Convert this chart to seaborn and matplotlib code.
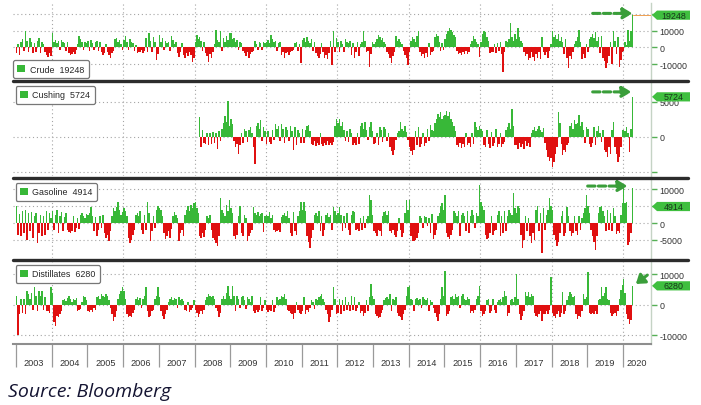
import numpy as np
import pandas as pd
import matplotlib
matplotlib.use('Agg')
import matplotlib.pyplot as plt
import seaborn as sns
from matplotlib.patches import Patch, Polygon
from matplotlib.lines import Line2D

# weekly-ish inventory changes, million barrels, two bars per month from Jan 2003 to mid Apr 2020
crude = [
    -3.5, 2.0, -4.4, 3.5, 5.0, -2.0, 9.6, 4.0, -3.0, 5.5, 3.0, -3.4, 2.5, -2.8, 4.0, 5.6, -3.4, 3.0, 2.0, -2.5, -4.6, -5.4, -3.5, -4.8,  # 2003
    8.6, 3.0, 4.5, 2.5, 3.6, -1.5, 4.2, 3.0, 2.8, -2.0, 3.5, -3.2, -4.4, -3.8, -2.5, -4.0, -1.5, 2.0, 6.6, 5.0, 3.5, -1.8, 3.0, 2.5,  # 2004
    3.8, -2.0, 4.6, 2.5, -1.8, 3.2, 4.0, -2.2, 3.0, -3.0, -4.2, -3.4, 2.0, -2.5, -4.5, -6.4, -3.6, -2.0, 5.0, 5.6, 3.4, 4.2, 2.2, -1.5,  # 2005
    4.5, 6.6, 3.0, -1.8, 5.0, 3.2, 2.5, -2.0, 1.5, -3.4, -2.6, -3.0, -1.8, -3.4, -2.2, 5.5, -2.8, 8.6, 4.0, -3.0, 6.0, 3.5, -7.4, -4.0,  # 2006
    7.6, 3.0, 5.5, -1.5, 4.0, 2.5, 3.2, -2.0, 6.6, 4.5, 2.0, 3.5, -3.5, -5.4, -2.8, 2.5, -4.6, -6.0, -3.5, -5.0, -2.5, -4.2, -8.4, -6.5,  # 2007
    3.0, 7.6, 5.0, 6.5, 4.0, -2.0, 3.0, -3.5, -5.0, -8.4, -4.0, -6.0, -2.5, 2.0, 10.6, 4.5, 3.0, 9.6, -2.0, 5.5, 3.5, 7.0, 4.2, 8.5,  # 2008
    8.6, 5.0, 5.6, 3.0, 4.5, -1.5, 3.5, 2.5, -2.0, -3.5, -5.0, -2.8, -6.4, -4.0, -3.0, -2.0, 3.6, 2.0, -1.5, 3.0, 2.5, -1.8, 3.2, 2.8,  # 2009
    3.0, 4.5, 2.5, 7.6, 5.0, 3.5, 4.0, -2.0, 2.5, 3.0, -4.4, -3.0, -6.4, -3.5, -2.5, -4.4, -3.0, -2.0, -1.5, 2.5, 3.0, -2.0, 2.0, -9.4,  # 2010
    4.5, 5.6, 3.0, 6.0, 4.0, 2.5, 5.0, -2.0, 3.0, -3.5, -5.0, -6.4, -4.0, 2.5, -3.0, -6.0, -4.5, -7.0, -3.5, 4.0, -10.4, 9.6, -3.0, 5.5,  # 2011
    3.0, -2.5, 4.0, 2.0, -3.0, 5.0, 3.5, 2.5, 3.6, -4.4, 2.5, -6.4, -3.0, 3.0, -5.0, 2.0, 3.0, 9.6, 4.0, -3.0, -2.0, -11.4, -4.0, 3.0,  # 2012
    2.0, 3.0, 5.0, 7.6, 6.0, 4.5, 5.5, 3.0, 2.0, -2.5, -4.0, -6.0, -9.4, -5.0, -3.0, 6.6, 4.0, 5.0, 3.0, 2.0, -2.0, -4.5, -6.0, -10.4,  # 2013
    -3.0, 4.0, 6.0, 5.0, 3.5, 7.0, 9.6, -3.0, -5.0, -4.0, -6.5, -3.5, -5.5, 2.5, -4.5, -3.0, -2.0, 6.0, 8.0, 7.0, 3.0, -2.0, 2.5, -1.5,  # 2014
    5.0, 8.0, 10.0, 11.6, 10.5, 9.0, 7.5, 6.0, -2.0, -4.0, -3.5, -4.4, -3.0, -3.8, -2.0, -4.0, -3.0, 2.0, 4.0, 7.0, 5.0, 3.0, 2.0, -5.4,  # 2015
    3.0, 8.0, 10.0, 9.0, 6.0, 4.0, -3.4, -2.5, -3.0, 2.0, -3.4, 2.5, -2.0, 3.0, -4.0, -14.4, -3.0, 4.0, 3.0, 5.0, 14.6, 6.0, 4.0, 8.0,  # 2016
    5.0, 11.6, 6.0, 4.0, 2.5, -3.0, -5.0, -4.0, -7.4, -6.0, -3.0, -5.5, -8.0, -4.0, -6.5, -3.0, -7.0, 6.0, -2.5, -4.5, -3.0, -6.0, -2.0, 2.0,  # 2017
    10.0, 6.0, 7.5, 5.0, 8.0, 4.0, 6.5, 3.0, -4.0, 5.0, -6.0, -12.4, -5.0, -7.0, -3.0, 2.0, 4.0, 6.0, 10.6, 3.0, -7.0, -4.0, -6.5, 2.0,  # 2018
    -3.0, 5.0, 6.0, 8.0, 5.5, 9.0, 4.0, 6.0, -3.5, 7.0, -6.0, -8.0, -12.4, -9.0, -5.0, 3.0, -10.0, 9.6, 4.0, -4.0, 6.0, -11.4, -7.4, -3.0,  # 2019
    -2.0, 3.0, 1.5, 10.6, 4.0, 10.0, 19.248,  # 2020
]

# Cushing series begins in early 2008
cushing = [
    2.9, -1.4, 1.0, -0.8, -1.0, 0.6, -1.2, 0.5, -1.0, 0.7, -0.8, 0.6, -1.7, 0.8, -0.6, 1.2, 2.0, 3.0, 2.2, 5.1, 1.5,  # 2008
    2.5, 1.8, -0.6, -1.5, -1.0, -2.4, -1.2, 0.6, -0.8, 1.2, 0.8, -0.7, 1.0, 1.4, 0.5, -1.5, -3.9, 1.5, 2.0, 1.2, 2.4, -0.6, 1.4, 0.8,  # 2009
    -1.0, 0.8, -0.7, -1.0, 1.0, -0.5, 1.9, 1.2, 1.5, -0.6, 1.9, 1.2, -0.8, 1.4, 1.0, -0.6, 1.5, 0.8, -1.9, 1.4, -1.2, 1.0, 0.6, -0.9,  # 2010
    1.2, -0.8, 1.0, 1.5, 1.7, 0.8, -1.0, -1.2, -0.6, -1.3, -0.9, -1.2, 0.5, -1.0, -1.3, -0.8, -1.2, -0.6, -1.1, -0.9, -1.2, -0.7, 1.5, 2.6,  # 2011
    2.0, 2.6, 1.5, 2.2, 1.0, -0.6, 0.8, -0.7, 1.2, 0.5, -1.2, -0.8, -1.2, 0.6, -1.0, 1.5, 2.0, 1.2, 2.1, 1.0, -0.5, 1.4, 2.1, 0.8,  # 2012
    -1.0, -0.8, 0.6, -1.2, 1.4, 1.0, -0.7, 1.4, 1.2, -0.6, 0.5, -1.5, -2.0, -2.6, -1.8, -0.5, 0.6, 0.8, 2.1, 1.2, 0.9, 1.5, 0.7, -0.5,  # 2013
    -1.5, -2.0, -2.6, -1.8, 0.8, -1.2, 1.4, -1.5, -1.0, 0.6, -1.3, -0.8, 1.2, -0.6, 1.7, 1.0, 0.8, 2.0, 2.5, 3.3, 2.8, 3.6, 2.5, 3.0,  # 2014
    3.2, 3.7, 3.0, 3.5, 2.6, 2.2, 1.5, 0.8, -1.2, -1.5, -0.9, -1.6, -1.0, -1.4, 0.6, -1.2, -0.8, -1.5, 0.5, -1.0, 2.1, 1.4, 1.0, 1.6,  # 2015
    1.2, 0.8, -1.2, -1.5, 1.0, -1.0, -1.6, 0.7, -1.3, -0.8, 1.2, -1.5, -1.0, 0.6, -1.4, -1.0, -0.7, 1.0, 1.4, 2.0, 1.2, 4.0, 1.5, -1.2,  # 2016
    -1.2, -1.7, -0.8, -1.5, -1.0, -1.7, -0.6, -1.3, -0.9, -1.4, 0.6, 1.0, 1.4, 0.8, 1.2, 1.6, 1.0, 0.7, 1.3, -0.8, -1.8, -2.8, -3.5, -3.0,  # 2017
    -4.3, -3.6, -2.5, -1.5, 3.6, 2.0, -1.0, -2.6, -1.8, -2.2, -1.2, -0.8, 1.5, 2.0, 1.2, 2.4, 1.8, 2.0, 3.1, 1.5, 2.2, 1.0, -0.8, 1.4,  # 2018
    1.2, -1.0, -1.4, -0.8, 1.4, -1.2, 0.9, 1.5, 0.6, -0.7, 1.0, -1.8, -2.2, -2.8, -1.5, -2.5, 1.0, 2.1, -1.4, -2.5, -3.6, -2.8, -1.5, 1.0,  # 2019
    1.0, 0.8, 1.4, 0.6, -2.1, 1.2, 5.724,  # 2020
]

gasoline = [
    5.2, -3.5, 2.8, -4.0, 3.5, -3.0, 4.0, -5.0, 3.0, -2.5, 3.4, -4.5, 2.0, 3.0, -5.9, -3.0, 2.5, -4.0, 2.0, -3.5, 3.5, -2.0, 3.0, 1.5,  # 2003
    3.5, -2.0, 2.5, 3.8, -3.0, 2.0, 3.2, -2.5, 1.8, 3.0, -2.0, -2.8, -3.0, -2.5, 2.0, -2.6, -1.5, 1.5, -1.8, 2.5, 3.0, 2.0, 1.5, 2.8,  # 2004
    2.5, 3.0, 4.7, 2.0, -2.5, 1.8, -3.8, -2.0, 2.0, -1.5, 2.5, -3.0, -4.5, -3.5, -5.4, -2.5, 2.0, 4.5, 3.5, 4.8, 6.3, 4.0, 2.5, 3.2,  # 2005
    4.5, 3.5, 2.0, -4.5, -6.0, -5.0, -3.5, -2.0, 2.5, 3.0, 2.0, 3.5, -2.0, -3.4, 2.5, -2.0, 6.3, 3.0, -5.4, -2.5, 2.0, -1.5, 4.0, 5.0,  # 2006
    4.5, 3.8, 2.0, -3.0, -4.8, -4.0, -2.5, -4.5, -1.8, 2.0, 3.2, 2.5, 1.5, -5.4, -3.0, -2.0, -4.0, 2.5, 4.0, 5.0, 3.5, 5.5, 4.5, 6.0,  # 2007
    6.3, 4.5, 3.0, -4.0, -4.5, -3.0, -4.3, -2.0, 2.0, 1.5, 2.5, -2.0, -4.5, -5.0, -6.0, -6.9, -4.0, 7.3, 4.0, 3.0, 2.0, 5.5, 3.5, 6.8,  # 2008
    4.5, 3.0, -4.0, -4.8, -3.5, 2.0, 5.2, -3.0, -4.0, 2.5, 1.5, -5.4, -4.0, -3.0, -2.0, 4.7, 3.0, 2.5, 3.2, 2.0, 2.8, 3.0, -2.8, 2.0,  # 2009
    2.5, 2.0, 3.2, 1.5, 2.5, -2.0, -2.8, -2.5, -2.0, -2.8, 1.8, 2.5, 3.0, 2.0, 3.5, 1.5, -3.0, -3.8, 3.2, -2.5, -3.5, 2.0, 3.5, 6.3,  # 2010
    4.0, 6.3, 3.5, -4.0, -5.5, -7.4, -4.5, -2.0, 2.5, 3.0, 2.0, 3.5, -2.5, 2.0, -3.8, -2.0, 2.5, 3.0, 1.8, 2.5, -2.0, 4.7, 3.5, 2.5,  # 2011
    3.0, 4.7, 2.5, -2.3, 2.0, -1.5, 3.0, -2.0, -3.5, 2.5, 3.7, 3.2, -2.0, -1.8, -2.3, 1.5, -2.2, 2.0, -1.5, 1.2, 2.0, 8.3, 6.8, 2.5,  # 2012
    -2.5, -3.0, -3.8, -2.0, -2.5, -3.8, 2.0, 3.2, 3.7, 2.5, 3.5, -2.5, -3.0, -2.0, -3.5, -4.3, -2.5, 1.5, -2.0, -4.3, -3.0, 3.0, 6.8, 4.0,  # 2013
    6.8, -4.0, -5.4, -5.4, -5.0, -4.5, -3.0, 2.2, 1.5, -1.5, 2.0, 1.8, -1.0, 1.5, -3.0, 2.7, -4.8, -3.5, -2.0, 2.0, 3.0, 5.0, 6.0, 4.0,  # 2014
    8.3, -3.0, -4.3, -4.8, -3.5, -2.0, 3.5, 3.0, 2.0, 3.7, -3.8, 2.5, 3.0, 2.0, -2.5, 3.5, -3.0, 2.0, 4.0, 2.5, -1.5, 3.0, 2.0, 11.3,  # 2015
    6.3, 5.0, 4.0, -3.5, -4.8, -4.5, -3.0, 2.0, -3.5, -2.5, -2.0, 2.5, 3.5, -3.8, 2.0, -3.0, 3.5, -2.5, 2.0, 4.0, 3.0, 2.5, 8.8, 4.5,  # 2016
    3.0, 5.2, 4.5, -3.5, -7.4, -5.0, 2.0, -2.5, 1.5, -4.0, -5.9, -3.0, -5.0, 4.0, 5.2, -2.5, 3.0, -8.9, 4.5, -2.0, 2.5, 4.0, 7.3, 5.0,  # 2017
    4.0, -3.5, -5.0, -6.9, -5.5, -3.0, 2.0, 3.7, -4.0, -3.0, 4.7, 2.0, -2.5, -3.8, -3.0, 2.0, -2.5, -3.5, 2.2, -2.0, 1.5, 3.0, 4.5, 8.3,  # 2018
    5.0, 3.0, -2.0, -4.0, -5.5, -7.9, -4.0, 3.0, 4.7, 5.2, 3.5, 2.0, -2.3, 4.0, -2.0, 3.0, -2.3, 4.5, 2.0, -3.3, -2.5, -3.0, 2.5, 6.0,  # 2019
    10.3, 6.0, 6.3, -6.4, -5.5, -3.0, 10.5,  # 2020
]

distillates = [
    3.0, -10.0, -3.0, 1.8, -2.5, 2.0, -3.0, 4.5, 3.5, 2.0, 4.0, -1.5, 5.8, 3.0, -2.0, 4.5, 3.0, 4.5, -1.5, 2.5, -2.0, -1.9, -2.5, 5.8,  # 2003
    4.0, -5.5, -6.8, -3.5, -4.0, -3.0, -2.0, 1.5, 2.0, 1.2, 2.2, 3.0, 1.8, 1.0, 2.0, 1.5, 2.2, -1.9, -1.8, -1.2, 1.0, 3.0, 2.5, 1.5,  # 2004
    -2.0, -2.2, -1.5, -2.2, -1.0, -1.8, 2.5, 3.0, 2.0, 3.5, 2.8, 2.5, 3.6, 3.0, 1.5, -1.0, -3.0, -5.1, -4.0, -2.0, 2.0, 3.5, 4.5, 5.8,  # 2005
    4.5, 2.0, -3.0, -4.0, -3.5, -4.0, -2.5, -1.5, 2.0, 2.5, 1.5, 2.2, -1.0, 2.0, 3.0, 5.8, -2.0, -4.0, -3.5, -2.0, -1.5, 2.0, 3.0, 5.8,  # 2006
    2.5, -2.0, -3.5, -4.6, -3.0, -1.5, 1.0, 2.0, 2.5, 1.5, 2.2, 1.8, -1.0, 2.5, 1.5, 2.0, 1.2, -1.8, -2.0, 1.0, -2.2, -1.5, -1.0, 1.5,  # 2007
    -1.5, -2.5, -4.0, -3.0, -2.0, -3.0, -1.5, 1.5, 2.5, 3.5, 3.0, 2.5, 3.0, 2.0, -1.0, -2.0, -4.0, -2.5, 2.0, 3.0, 2.0, 4.0, 6.3, 3.0,  # 2008
    2.0, 6.3, 3.0, -1.9, 3.0, 2.0, -1.0, 2.5, 3.0, 1.5, -1.2, 2.5, 2.0, 1.0, 3.0, -2.0, -2.5, -1.5, -2.2, -1.8, 2.5, -2.0, -1.0, 1.5,  # 2009
    -1.5, -2.2, -1.8, -2.0, 1.5, -2.2, -1.0, 2.5, 1.5, 2.0, 3.0, 2.5, 3.6, 2.0, -1.5, -2.0, -2.5, -3.0, -4.6, -2.5, 1.0, -1.5, -2.5, -3.0,  # 2010
    -2.0, 2.5, -2.8, -1.5, -2.2, -1.0, 1.5, 1.0, -1.2, 2.0, 1.5, 2.5, 3.0, 3.6, 2.0, 1.0, -1.5, -3.0, -5.7, -4.0, -1.5, 5.8, 2.0, -3.0,  # 2011
    -2.5, 2.0, -3.0, 1.5, -2.0, 2.5, -1.5, 1.0, -2.0, 3.0, -1.5, 2.5, -2.0, -1.0, 1.0, -2.5, -2.0, -3.7, -2.5, 1.5, -2.0, 2.5, 6.9, 3.0,  # 2012
    2.0, -3.0, -3.5, -4.2, -4.0, -2.5, -1.5, 1.5, 2.2, 2.5, 1.8, 3.6, -2.0, 2.0, 1.5, 2.5, -2.5, -3.5, -4.0, -4.8, -3.0, -1.5, 3.0, 5.8,  # 2013
    6.3, 2.0, 1.5, -2.0, 2.0, 2.2, 1.5, 1.8, -1.0, 2.5, 2.0, 1.5, 2.2, -2.0, 1.5, 1.0, -1.0, -2.5, -4.0, -5.3, -3.0, 2.0, 5.8, 3.0,  # 2014
    11.3, -3.7, -3.0, -2.0, 2.5, 3.0, 2.0, 3.5, 2.5, 3.0, -1.0, 2.8, 3.5, 2.0, 1.5, 2.5, 2.0, -2.5, -2.0, -2.5, -1.5, 2.0, 3.0, 6.3,  # 2015
    -2.0, -3.7, -3.0, -2.0, 1.5, 2.0, -2.5, -2.0, 2.0, -1.5, -2.5, 1.0, 1.5, 2.0, 1.0, 2.5, 4.7, 3.0, -3.7, -2.5, 1.5, 2.0, 1.0, 2.5,  # 2016
    10.2, 2.0, -3.0, -4.8, -3.5, -2.0, 4.1, 3.0, 4.1, 2.5, 3.5, 3.0, -2.5, -3.5, -4.0, -3.0, -2.0, -5.3, -3.0, -3.0, -2.0, -3.0, -1.5, 9.1,  # 2017
    -2.5, -3.5, -4.2, -3.0, -2.0, -4.0, -2.5, 4.1, -3.0, -2.0, 1.5, 3.0, 4.1, 3.5, 2.5, 3.0, -3.0, -4.5, -3.5, -4.0, -2.0, 3.6, 2.0, 2.5,  # 2018
    10.8, -2.5, -3.1, -2.5, -3.0, -2.0, -3.1, 1.5, 2.0, 5.8, 3.0, 4.0, 5.8, 2.0, 1.5, -2.5, -3.7, -3.0, -2.5, -3.7, -2.0, 2.0, 5.0, 6.5,  # 2019
    8.5, 4.0, -3.0, -4.5, -6.4, -5.0, 6.28,  # 2020
]

names = ['Crude', 'Cushing', 'Gasoline', 'Distillates']
last_values = [19248, 5724, 4914, 6280]
year_labels = [str(y) for y in range(2003, 2021)]

GREEN = '#38b838'
RED = '#e01010'
TAG = '#3fbf3f'
ARROW = '#3a9e3a'
GRID = '#a5a5a5'

W, H = 701, 406
X0, X1 = 2002.916, 2020.784

sns.set_style('white')
plt.rcParams['font.family'] = ['Liberation Sans', 'DejaVu Sans']
plt.rcParams['axes.unicode_minus'] = False

fig = plt.figure(figsize=(W / 100, H / 100), dpi=100)

# panel boxes in pixels: (top, bottom)
boxes = [(4, 80), (84, 177), (181, 259), (263, 345)]
axes = []
for top, bottom in boxes:
    ax = fig.add_axes([13 / W, 1 - bottom / H, (651 - 13) / W, (bottom - top) / H])
    axes.append(ax)

# two slots per month, centred in each half-month
t_all = 2003 + (np.arange(len(crude)) + 0.5) / 24
series = [crude, cushing, gasoline, distillates]

ylims = [(-18800, 26500), (-5570, 7700), (-10400, 12800), (-12800, 14100)]
yticks = [[-10000, 0, 10000, 20000], [-5000, 0, 5000], [-5000, 0, 5000, 10000], [-10000, 0, 10000]]
ylabels = [['-10000', '0', '10000', ''], ['', '0', '5000'], ['-5000', '0', '', '10000'], ['-10000', '0', '10000']]


def draw_bars(ax, vals):
    t = t_all[len(t_all) - len(vals):]
    df = pd.DataFrame({'week': t, 'change': np.asarray(vals) * 1000})
    df['dir'] = np.where(df['change'] >= 0, 'build', 'draw')
    sns.barplot(data=df, x='week', y='change', hue='dir', hue_order=['build', 'draw'],
                palette={'build': GREEN, 'draw': RED}, saturation=1, native_scale=True,
                dodge=False, width=1.0, errorbar=None, linewidth=0, legend=False, ax=ax)
    return t


for i, ax in enumerate(axes):
    t = draw_bars(ax, series[i])
    ax.set_xlim(X0, X1)
    ax.set_ylim(*ylims[i])
    ax.set_xlabel('')
    ax.set_ylabel('')
    ax.set_yticks(yticks[i])
    ax.set_yticklabels(ylabels[i])
    ax.yaxis.tick_right()
    ax.tick_params(axis='y', direction='out', length=4, width=1, color='#55b055',
                   labelsize=6.4, labelcolor='#333333', pad=2)
    ax.set_axisbelow(True)
    ax.grid(axis='y', color=GRID, linestyle=(0, (1, 2.5)), lw=0.8)
    for yr in range(2004, 2021, 2):
        ax.axvline(yr, color=GRID, linestyle=(0, (1, 2.5)), lw=0.8, zorder=0)
    for s in ['top', 'left', 'bottom']:
        ax.spines[s].set_visible(False)
    ax.spines['right'].set_color('#c5d3c5')
    ax.spines['right'].set_linewidth(1)
    if i < 3:
        ax.tick_params(axis='x', bottom=False, labelbottom=False)

    # legend box
    label = f'{names[i]}  {last_values[i]}'
    if i == 0:
        loc, anchor = 'lower left', (0.0, 0.01)
    else:
        top, bottom = boxes[i]
        loc, anchor = 'upper left', (0.004, 1 - (3 / (bottom - top)))
    leg = ax.legend(handles=[Patch(facecolor=GREEN, edgecolor='none')], labels=[label],
                    loc=loc, bbox_to_anchor=anchor, fontsize=6.4, frameon=True, fancybox=True,
                    edgecolor='#777777', framealpha=1, handlelength=0.9, handleheight=0.9,
                    handletextpad=0.5, borderpad=0.5, borderaxespad=0)
    leg.get_frame().set_linewidth(0.9)
    leg.set_zorder(6)

    # value tag on the right axis
    yc = ax.transData.transform((X1, last_values[i]))[1]
    pts = [(652, yc), (657, yc + 4.6), (690, yc + 4.6), (690, yc - 4.6), (657, yc - 4.6)]
    pts = [(px / W, py / H) for px, py in pts]
    fig.add_artist(Polygon(pts, closed=True, facecolor=TAG, edgecolor='none',
                           transform=fig.transFigure, zorder=7))
    fig.text(674 / W, yc / H, str(last_values[i]), ha='center', va='center',
             fontsize=6.4, color='#17351a', zorder=8)

# bottom axis with year cells
axd = axes[3]
axd.spines['bottom'].set_visible(True)
axd.spines['bottom'].set_color('#8e8e8e')
axd.spines['bottom'].set_linewidth(1.5)
axd.set_xticks(range(2003, 2021))
axd.set_xticklabels([''] * 18)
label_pos = [y + 0.5 for y in range(2003, 2020)] + [(2020 + X1) / 2]
axd.set_xticks(label_pos, minor=True)
axd.set_xticklabels(year_labels, minor=True)
axd.tick_params(axis='x', which='major', bottom=True, direction='out', length=16.5,
                width=0.9, color='#9a9a9a')
axd.tick_params(axis='x', which='minor', bottom=True, length=0, pad=10, labelsize=6.6,
                labelcolor='#333333')

# last-value line on crude
axes[0].plot([t_all[-1], X1], [last_values[0], last_values[0]], color='#f0a050', lw=0.7, zorder=3)

# dashed call-out arrows
dash_arrow = dict(arrowstyle='-|>,head_length=0.55,head_width=0.32', color=ARROW, lw=2.2,
                  linestyle=(0, (2.4, 1.1)), shrinkA=0, shrinkB=0)
axes[0].annotate('', xy=(2020.27, 20300), xytext=(2019.15, 20300), arrowprops=dash_arrow, zorder=5)
axes[1].annotate('', xy=(2020.24, 6430), xytext=(2019.15, 6430), arrowprops=dash_arrow, zorder=5)
axes[2].annotate('', xy=(2020.13, 11000), xytext=(2019.01, 11000), arrowprops=dash_arrow, zorder=5)
axes[3].annotate('', xy=(2020.36, 6900), xytext=(2020.68, 9800),
                 arrowprops=dict(arrowstyle='-|>,head_length=0.5,head_width=0.35', color=ARROW,
                                 lw=2.2, shrinkA=0, shrinkB=0), zorder=5)

# thick separators between panels
for y in [82, 179, 261]:
    fig.add_artist(Line2D([13 / W, 688 / W], [1 - y / H, 1 - y / H], color='#2c2c2c',
                          lw=2.4, transform=fig.transFigure, zorder=9))

fig.text(8 / W, 1 - 392 / H, 'Source: Bloomberg', fontsize=14, style='italic',
         family=['Open Sans', 'DejaVu Sans'], color='#141432', va='center')

fig.savefig('out.png', dpi=100)
